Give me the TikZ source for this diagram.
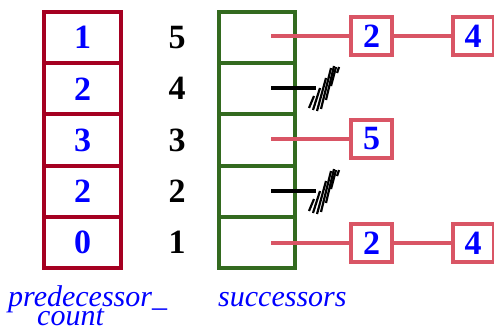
\documentclass[tikz,border=0pt]{standalone}
\usepackage{fontspec}
\setmainfont{Liberation Serif}
\definecolor{pcred}{HTML}{A50021}
\definecolor{sgreen}{HTML}{336A1F}
\definecolor{lpink}{HTML}{D95565}
\definecolor{tblue}{HTML}{0000FF}
\begin{document}
\begin{tikzpicture}[x=1pt,y=-1pt,
  pcbox/.style={draw=pcred,line width=4pt,minimum width=77pt,minimum height=51.2pt,inner sep=0pt,
    font=\fontsize{34}{34}\selectfont\bfseries,text=tblue},
  sbox/.style={draw=sgreen,line width=4pt,minimum width=76pt,minimum height=51.2pt,inner sep=0pt},
  idx/.style={font=\fontsize{34}{34}\selectfont\bfseries,text=black,inner sep=0pt},
  lbox/.style={draw=lpink,line width=4pt,minimum width=41pt,minimum height=38pt,inner sep=0pt,fill=white,
    font=\fontsize{34}{34}\selectfont\bfseries,text=tblue},
  ptr/.style={draw=lpink,line width=3.5pt},
  nullline/.style={draw=black,line width=4pt},
  lbl/.style={font=\fontsize{30}{30}\selectfont\itshape,text=tblue,inner sep=0pt,anchor=base west},
  hstripe/.style={draw=black,line width=2.2pt},
  hatch/.pic={
    \draw[hstripe] (-7,20) -- (-2,8);
    \draw[hstripe] (-3,22) -- (4,0);
    \draw[hstripe] (1,23) -- (10,-10);
    \draw[hstripe] (5,21) -- (15,-20);
    \draw[hstripe] (10,12) -- (18,-22);
    \draw[hstripe] (15,-2) -- (20,-21);
    \draw[hstripe] (21,-15) -- (23,-21);
  }]
\useasboundingbox (0,0) rectangle (494,329);
% predecessor_count column
\foreach \v [count=\i] in {1,2,3,2,0}{
  \node[pcbox] (pc\i) at (82.5,{12+51.2*(\i-0.5)}) {\v};
}
% index column
\foreach \v [count=\i] in {5,4,3,2,1}{
  \node[idx] (ix\i) at (177,{12+51.2*(\i-0.5)}) {\v};
}
% successors column
\foreach \i in {1,...,5}{
  \node[sbox] (sc\i) at (257,{12+51.2*(\i-0.5)}) {};
}
% list boxes
\node[lbox] (a2) at (371.5,36) {2};
\node[lbox] (a4) at (473,36) {4};
\node[lbox] (b5) at (371.5,139) {5};
\node[lbox] (c2) at (371.5,243) {2};
\node[lbox] (c4) at (473,243) {4};
% pointers
\coordinate (p1) at (271,36);
\coordinate (p3) at (271,139);
\coordinate (p5) at (271,243);
\draw[ptr] (p1) -- (a2.west);
\draw[ptr] (a2.east) -- (a4.west);
\draw[ptr] (p3) -- (b5.west);
\draw[ptr] (p5) -- (c2.west);
\draw[ptr] (c2.east) -- (c4.west);
% null pointers
\coordinate (n2) at (271,88);
\coordinate (m2) at (316,88);
\coordinate (n4) at (271,191);
\coordinate (m4) at (316,191);
\draw[nullline] (n2) -- (m2);
\draw[nullline] (n4) -- (m4);
\pic at (m2) {hatch};
\pic at (m4) {hatch};
% labels
\node[lbl] (lp) at (8,306) {predecessor\_};
\node[lbl] (lc) at (37,325) {count};
\node[lbl] (ls) at (218,306) {successors};
\end{tikzpicture}
\end{document}
